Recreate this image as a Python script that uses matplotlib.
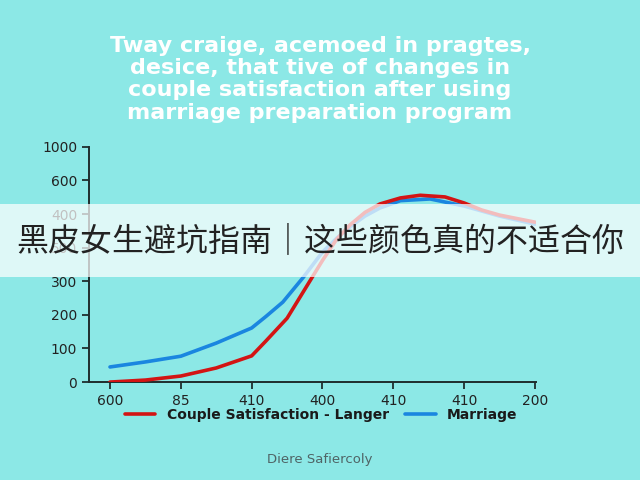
import matplotlib
matplotlib.use('Agg')
from matplotlib import pyplot as plt
from matplotlib.patches import Rectangle
import numpy as np

# tick labels (the chart uses evenly spaced ticks with odd labels)
x_labels = ['600', '85', '410', '400', '410', '410', '200']
y_labels = ['0', '100', '200', '300', '500', '400', '600', '1000']

# curves, x in tick positions, y in tick-position units (100 per tick)
red_x = [0, 0.5, 1, 1.5, 2, 2.2, 2.5, 2.82, 3, 3.2, 3.39, 3.6, 3.81, 4.1, 4.38, 4.73, 5, 5.25, 5.5, 6]
red_y = [0, 6, 18, 42, 78, 122, 190, 300, 362, 425, 468, 505, 530, 548, 556, 551, 533, 512, 497, 476]
blue_x = [0, 0.5, 1, 1.5, 2, 2.2, 2.44, 2.73, 3, 3.2, 3.39, 3.6, 3.81, 4.1, 4.52, 5, 5.5, 6]
blue_y = [45, 60, 77, 116, 161, 195, 238, 312, 387, 428, 462, 494, 518, 540, 545, 524, 494, 470]

bg = '#8ce8e6'
dark = '#1f2d2d'

fig = plt.figure(figsize=(6.4, 4.8), dpi=100, facecolor=bg)
ax = fig.add_axes([0.139, 0.204, 0.698, 0.49])
ax.set_facecolor(bg)

ax.plot(red_x, red_y, color='#d31414', linewidth=2.6, solid_capstyle='round',
        solid_joinstyle='round', label='Couple Satisfaction - Langer', zorder=3)
ax.plot(blue_x, blue_y, color='#1a86e0', linewidth=2.6, solid_capstyle='round',
        solid_joinstyle='round', label='Marriage', zorder=2)

ax.set_xlim(-0.297, 6.01)
ax.set_ylim(0, 700)
ax.set_xticks(range(len(x_labels)))
ax.set_xticklabels(x_labels)
ax.set_yticks(np.arange(len(y_labels)) * 100)
ax.set_yticklabels(y_labels)
ax.tick_params(colors=dark, labelsize=10, length=5, width=1.3)
for lab in ax.get_xticklabels() + ax.get_yticklabels():
    lab.set_color('#222222')
for s in ['top', 'right']:
    ax.spines[s].set_visible(False)
for s in ['left', 'bottom']:
    ax.spines[s].set_color(dark)
    ax.spines[s].set_linewidth(1.4)

leg = ax.legend(loc='upper center', bbox_to_anchor=(0.52, -0.055), ncol=2,
                frameon=False, handlelength=2.2, columnspacing=1.2,
                prop={'weight': 'bold', 'size': 10})
for t in leg.get_texts():
    t.set_color('#1a1a1a')

fig.text(0.5, 0.835, 'Tway craige, acemoed in pragtes,\ndesice, that tive of changes in\n'
         'couple satisfaction after using\nmarriage preparation program',
         ha='center', va='center', color='white', fontsize=16, fontweight='heavy',
         linespacing=1.15)

fig.text(0.5, 0.042, 'Diere Safiercoly', ha='center', va='center',
         color='#4f6466', fontsize=9.5)

# banner overlay
fig.patches.append(Rectangle((0, 1 - 277 / 480), 1, 73 / 480, transform=fig.transFigure,
                             facecolor='white', alpha=0.72, edgecolor='none', zorder=5))
fig.text(0.5, 1 - 241 / 480, '黑皮女生避坑指南｜这些颜色真的不适合你', ha='center', va='center',
         fontsize=23, color='#222222', family=['Noto Sans CJK SC', 'DejaVu Sans'], zorder=6)

fig.savefig('out.png', dpi=100, facecolor=bg)
